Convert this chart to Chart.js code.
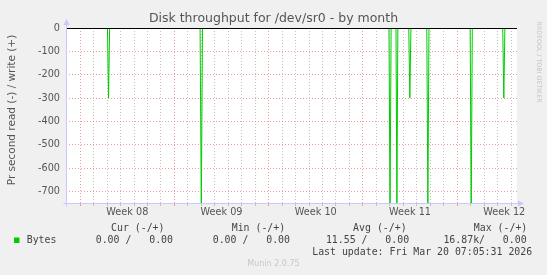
<!DOCTYPE html>
<html>
<head>
<meta charset="utf-8">
<script src="https://cdn.jsdelivr.net/npm/chart.js@4.4.1/dist/chart.umd.min.js"></script>
<style>
    html, body { margin: 0; padding: 0; background: #f0f0f0; }
    #wrap { width: 547px; height: 275px; position: relative; }
</style>
</head>
<body>
<div id="wrap"><canvas id="diskChart" width="547" height="275"></canvas></div>
<script>
// x values are days counted from the left edge of the graph
const readDays = [0, 3.08, 3.16, 3.24, 9.96, 10.05, 10.14, 23.99, 24.07, 24.15, 24.51, 24.58, 24.65,
    25.46, 25.54, 25.62, 26.80, 26.88, 26.96, 30.02, 30.10, 30.18, 32.44, 32.52, 32.60, 33.5];
const readBytes = [0, 0, -300, 0, 0, -770, 0, 0, -775, 0, 0, -765, 0,
    0, -300, 0, 0, -770, 0, 0, -780, 0, 0, -300, 0, 0];
const writeDays = [0, 33.5];
const writeBytes = [0, 0];

const weekLabels = ['Week 08', 'Week 09', 'Week 10', 'Week 11', 'Week 12'];
const legendHeaders = ['Cur (-/+)', 'Min (-/+)', 'Avg (-/+)', 'Max (-/+)'];
const legendValues = ['0.00 /   0.00', '0.00 /   0.00', '11.55 /   0.00', '16.87k/   0.00'];

const xMax = 33.5;
const weekStart = 1.055;
const MAJOR = 'rgba(230, 120, 120, 0.75)';
const MINOR = 'rgba(170, 170, 170, 0.7)';
const AXIS = 'rgb(200, 200, 255)';
const TEXT = '#555';
const SANS = "'DejaVu Sans', sans-serif";
const MONO = "'DejaVu Sans Mono', monospace";

function noPad(s) {
    s.paddingLeft = 0; s.paddingRight = 0; s.paddingTop = 0; s.paddingBottom = 0;
}

const muninLook = {
    id: 'muninLook',
    beforeDraw(chart) {
        const { ctx, chartArea: a } = chart;
        ctx.save();
        ctx.fillStyle = '#f0f0f0';
        ctx.fillRect(0, 0, chart.width, chart.height);
        ctx.fillStyle = '#fff';
        ctx.fillRect(a.left, a.top, a.right - a.left, a.bottom - a.top);
        ctx.restore();
    },
    afterDatasetsDraw(chart) {
        const { ctx, chartArea: a } = chart;
        const y0 = Math.round(chart.scales.y.getPixelForValue(0)) + 0.5;
        ctx.save();
        // zero rule
        ctx.strokeStyle = '#000';
        ctx.lineWidth = 1;
        ctx.beginPath();
        ctx.moveTo(a.left, y0);
        ctx.lineTo(a.right, y0);
        ctx.stroke();
        // axes with arrows
        const xl = a.left + 0.5, yb = a.bottom + 0.5;
        ctx.strokeStyle = AXIS;
        ctx.fillStyle = AXIS;
        ctx.beginPath();
        ctx.moveTo(xl, yb + 3);
        ctx.lineTo(xl, a.top - 6);
        ctx.moveTo(xl - 3, yb);
        ctx.lineTo(a.right + 3, yb);
        ctx.stroke();
        ctx.beginPath();
        ctx.moveTo(xl, a.top - 9);
        ctx.lineTo(xl - 3, a.top - 3);
        ctx.lineTo(xl + 3, a.top - 3);
        ctx.closePath();
        ctx.fill();
        ctx.beginPath();
        ctx.moveTo(a.right + 7, yb);
        ctx.lineTo(a.right + 1, yb - 3);
        ctx.lineTo(a.right + 1, yb + 3);
        ctx.closePath();
        ctx.fill();
        ctx.restore();
    },
    afterDraw(chart) {
        const { ctx } = chart;
        ctx.save();
        // title
        ctx.fillStyle = TEXT;
        ctx.font = '12.5px ' + SANS;
        ctx.textAlign = 'center';
        ctx.textBaseline = 'middle';
        ctx.fillText('Disk throughput for /dev/sr0 - by month', 273.5, 19);
        // vertical axis title
        ctx.save();
        ctx.translate(12, 110);
        ctx.rotate(-Math.PI / 2);
        ctx.font = '10.5px ' + SANS;
        ctx.fillText('Pr second read (-) / write (+)', 0, 0);
        ctx.restore();
        // rrdtool credit
        ctx.save();
        ctx.translate(538.5, 21.5);
        ctx.rotate(Math.PI / 2);
        ctx.fillStyle = '#c4c4c4';
        ctx.font = '6.3px ' + SANS;
        ctx.textAlign = 'left';
        ctx.fillText('RRDTOOL / TOBI OETIKER', 0, 0);
        ctx.restore();
        // legend
        ctx.font = '9.9px ' + MONO;
        ctx.textAlign = 'left';
        ctx.fillStyle = '#444';
        const headX = [111, 231.7, 353.1, 473.8];
        const valX = [95.7, 212.7, 325.9, 443.4];
        legendHeaders.forEach((h, i) => ctx.fillText(h, headX[i], 228.5));
        ctx.fillText('Bytes', 26.7, 240.5);
        legendValues.forEach((v, i) => ctx.fillText(v, valX[i], 240.5));
        ctx.fillText('Last update: Fri Mar 20 07:05:31 2026', 312.2, 252.5);
        ctx.fillStyle = '#00cc00';
        ctx.fillRect(14, 237.5, 5.5, 5.5);
        ctx.fillStyle = '#c8c8c8';
        ctx.font = '8px ' + SANS;
        ctx.textAlign = 'center';
        ctx.fillText('Munin 2.0.75', 273.5, 264);
        ctx.restore();
    }
};

new Chart(document.getElementById('diskChart'), {
    type: 'line',
    data: {
        datasets: [{
            label: 'Bytes',
            data: readDays.map((d, i) => ({ x: d, y: readBytes[i] })),
            borderColor: '#00cc00',
            borderWidth: 1,
            pointRadius: 0,
            tension: 0
        }, {
            label: 'write',
            data: writeDays.map((d, i) => ({ x: d, y: writeBytes[i] })),
            borderColor: '#00cc00',
            borderWidth: 1,
            pointRadius: 0
        }]
    },
    options: {
        responsive: false,
        animation: false,
        devicePixelRatio: 1,
        layout: { padding: { top: 28, right: 30, bottom: 0, left: 0 } },
        plugins: { legend: { display: false }, tooltip: { enabled: false } },
        scales: {
            x: {
                type: 'linear', min: 0, max: xMax, position: 'bottom', weight: 0,
                afterBuildTicks: s => {
                    const t = [];
                    for (let d = weekStart - 1; d < xMax; d += 1) t.push({ value: d });
                    s.ticks = t;
                },
                afterFit: s => { s.height = 0; noPad(s); },
                ticks: { display: false },
                grid: {
                    color: c => (Math.abs((c.tick.value - weekStart) % 7) < 0.01 ? MAJOR : MINOR),
                    tickColor: c => (Math.abs((c.tick.value - weekStart) % 7) < 0.01 ? MAJOR : MINOR),
                    drawTicks: true, tickLength: 3
                },
                border: { display: false, dash: [1, 2] }
            },
            weeks: {
                type: 'linear', min: 0, max: xMax, position: 'bottom', weight: 1,
                afterBuildTicks: s => {
                    s.ticks = weekLabels.map((l, i) => ({ value: weekStart + 3.5 + 7 * i }));
                },
                afterFit: s => { s.height = 72; noPad(s); },
                ticks: {
                    callback: (v, i) => weekLabels[i],
                    autoSkip: false, maxRotation: 0, padding: -4,
                    color: TEXT, font: { family: SANS, size: 9.7 }
                },
                grid: { display: false },
                border: { display: false }
            },
            y: {
                min: -750, max: 0,
                afterBuildTicks: s => {
                    const t = [];
                    for (let v = -700; v <= 0; v += 50) t.push({ value: v });
                    s.ticks = t;
                },
                afterFit: s => { s.width = 66; noPad(s); },
                ticks: {
                    callback: v => (v % 100 === 0 ? String(v) : ''),
                    padding: 6, color: TEXT, font: { family: SANS, size: 9.7 }
                },
                grid: {
                    color: c => (c.tick.value % 100 === 0 ? MAJOR : MINOR),
                    drawTicks: false
                },
                border: { display: false, dash: [1, 2] }
            }
        }
    },
    plugins: [muninLook]
});
</script>
</body>
</html>
